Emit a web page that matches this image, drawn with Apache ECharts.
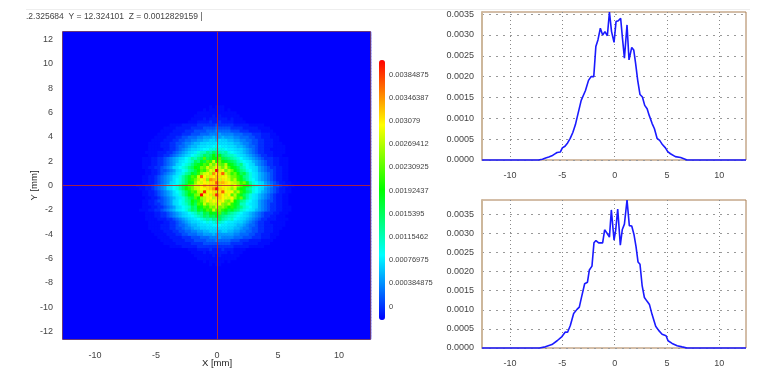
<!DOCTYPE html>
<html><head><meta charset="utf-8">
<style>html,body{margin:0;padding:0;background:#fff}#c{width:766px;height:388px}</style>
<script src="https://cdn.jsdelivr.net/npm/echarts@6/dist/echarts.min.js"></script>
</head><body><div id="c"></div>
<script>
// heat map: 0.25 mm cells, rows read top to bottom around the centre; each char picks a value from levelValues
const levelChars = "0123456789abcdefghijklmnopqrstuvwxyz";
const levelValues = [0,0.00004,0.0001,0.00018,0.0003,0.0004,0.0005,0.0006,0.0007,0.0008,0.00085,0.0009,0.00096,0.00108,0.0012,0.00132,0.00145,0.00158,0.0017,0.00182,0.00195,0.00208,0.0022,0.00232,0.00245,0.0026,0.0027,0.0028,0.00292,0.003,0.00308,0.00316,0.0033,0.0035,0.0037,0.00385];
const heatRows = [
"10111",
"101111101",
"1111111111111",
"111111212111111",
"11112122222212111",
"1112222322322221111",
"1111222223333334333332222211111",
"11112222233334444544443333222221111",
"1111222233344445556555544433322221111",
"111122223334445556667666655544433322211",
"11112223344555667778778777665554433222111",
"1111222334455667788998a9988776655443322211",
"1111222334456678899aaabaaa998876654433222111",
"11112223345567889aabbcdcbbaa98876554332221111",
"1111122334567899abccddeddcbba9987654332211111",
"111122233456789abdeegfhgfefdcba987654332221111",
"1112233456789acdefhghkhjgfeedba9876543322111",
"1112233456789acdfeghmhikkmihgfedca98765433322111",
"111223345678abcdehgjimlqknkjihgedcba876543322111",
"111223345679acdegijkmlpnqnmpkjhfgdca976543322111",
"11223345679acdeghkjnmqopspnqmkjhfecba97654332211",
"11223445679acdfgikmlorqzqrnpnkigfdca97654432211",
"1122345678abdfgjiloqrpwstxqolnkhifdba8765432211",
"1122345678abdfhjmlqxsqtsutrspnnljgfdba8765432211",
"1122345678acdfhjlnprtowvuqtrqnpljhfdca8765432211",
"1122345679acdfhkjorqsrttxuvtsqpolnjfdca9765432211",
"11122345679acdfhjmnqqsvtuuvqssrpsomkjhedba8764432211",
"1122345679acdfhklnpqsrtuwzutrqoqlkjgfdca9765432211",
"1122345678acdfhjmlpqyrstqtxsrsnpljhgdca8765432211",
"1122345678abdfhkjnozrsquyusqsmpljhfdba8765432211",
"1122345678abdfhimkoprsptusrqsolnifdba8765432211",
"11223445679acdfgkilnpsqsrqsonqkigfdca97654432211",
"11223345679acdegjhmlqnpqpsonpljieecba97654332211",
"111223345679acdehgkjmlonqnomkljhgedca976543322111",
"111223345678abcdfhgjikmlqmnlkijhgedcba876543322111",
"1112233456789acdegfihkjjmhigfedca98765433322111",
"1112233456789abcdefhgihjhgfeedcba9876543322111",
"111122233456789abcdefegfhfedecba987654332221111",
"1111122334567899abcdcdeedcbba9987654332211111",
"11112223345567889aabbcccbbaa98876554332221111",
"1111222334456678899aaaaaaa998876654433222111",
"111122233445566778899989988776655443322211",
"11112223344555667778777777665554433222111",
"111122223334445556667666655544433322211",
"1111222233344445556555544433322221111",
"11112222233334444444443333222221111",
"1111222223333333333332222211111",
"1112222322232221111",
"11112122222212111",
"111111212111111",
"1111111111111",
"101111101",
"10110"
];
const axisCells = Array.from({length: 101}, (_, i) => String(-12.5 + i * 0.25));
const heatXTicks = ["-10", "-5", "0", "5", "10"];
const heatYTicks = ["-12","-10","-8","-6","-4","-2","0","2","4","6","8","10","12"];
const colorbarLabels = ["0.00384875","0.00346387","0.003079","0.00269412","0.00230925","0.00192437","0.0015395","0.00115462","0.00076975","0.000384875","0"];
const statusText = ".2.325684  Y = 12.324101  Z = 0.0012829159 |";

const topX = [-12.68,-7.3,-6.9,-6.6,-6.3,-6,-5.75,-5.5,-5.2,-5,-4.75,-4.5,-4.25,-4,-3.75,-3.6,-3.45,-3.2,-3.06,-2.8,-2.5,-2.26,-2,-1.8,-1.6,-1.37,-1.15,-0.93,-0.7,-0.5,-0.3,-0.06,0.13,0.35,0.57,0.73,0.93,1.18,1.37,1.63,1.82,2,2.2,2.42,2.65,2.87,3.1,3.3,3.57,3.8,4.05,4.3,4.56,4.85,5.07,5.33,5.8,6.3,6.92,12.55];
const topY = [0,0,0.00002,0.00005,0.00007,0.0001,0.00014,0.00018,0.00019,0.00029,0.00033,0.00041,0.00052,0.00066,0.00085,0.00101,0.00105,0.00143,0.00146,0.00166,0.00191,0.002,0.002,0.00272,0.00288,0.00316,0.003,0.00308,0.00298,0.00355,0.00308,0.00282,0.00332,0.00334,0.0034,0.00296,0.00244,0.00324,0.0024,0.0027,0.00264,0.00232,0.00191,0.00157,0.00151,0.00131,0.00123,0.00107,0.00088,0.00075,0.00052,0.00047,0.00037,0.00029,0.0002,0.00015,0.00008,0.00006,0,0];
const botX = [-12.68,-7.2,-6.63,-6,-5.5,-5.04,-4.72,-4.5,-4.24,-3.92,-3.6,-3.38,-3.2,-2.87,-2.6,-2.42,-2.17,-1.98,-1.79,-1.53,-1.15,-0.96,-0.73,-0.5,-0.32,-0.06,0.1,0.29,0.54,0.73,0.93,1.18,1.4,1.63,1.85,2.04,2.23,2.42,2.62,2.84,3.1,3.32,3.57,3.92,4.2,4.53,4.91,5.1,5.49,5.97,6.44,6.92,12.55];
const botY = [0,0,0.00003,0.00009,0.00019,0.0003,0.00042,0.00041,0.00059,0.0009,0.00101,0.00107,0.00129,0.00168,0.00172,0.00204,0.00214,0.00275,0.00281,0.00275,0.00275,0.00309,0.003,0.0029,0.00361,0.00282,0.00309,0.00363,0.00269,0.0031,0.00324,0.00387,0.0032,0.00319,0.00296,0.00265,0.00225,0.00219,0.00164,0.00132,0.00122,0.00114,0.00088,0.00057,0.00046,0.00036,0.00032,0.00019,0.00012,0.00006,0.00003,0,0];
const profXTicks = [-10,-5,0,5,10];
const profYTicks = [0,0.0005,0.001,0.0015,0.002,0.0025,0.003,0.0035];

// expand the level rows over the full cell grid
const N = axisCells.length, C = (N - 1) / 2, H = (heatRows.length - 1) / 2;
const heatData = [];
const levels = {};
heatRows.forEach((row, r) => {
  const dy = H - r, x0 = C - Math.floor(row.length / 2);
  for (let i = 0; i < row.length; i++) levels[(x0 + i) + "," + (C + dy)] = levelValues[levelChars.indexOf(row[i])];
});
for (let y = 0; y < N; y++) for (let x = 0; x < N; x++) heatData.push([x, y, levels[x + "," + y] || 0]);

const FONT = "Liberation Sans";
const chart = echarts.init(document.getElementById("c"), null, {renderer: "canvas"});
const profAxisX = (g) => ({
  type: "value", gridIndex: g, min: -12.68, max: 12.55,
  axisLine: {show: false}, axisTick: {show: false, customValues: profXTicks},
  axisLabel: {customValues: profXTicks, fontFamily: FONT, fontSize: 9, color: "#444", margin: 11},
  splitLine: {show: true, lineStyle: {type: [1, 3], color: "#888", width: 1}}
});
const profAxisY = (g, max) => ({
  type: "value", gridIndex: g, min: 0, max: max,
  axisLine: {show: true, onZero: false, lineStyle: {color: "#cdb79b", width: 2}}, axisTick: {show: false, customValues: profYTicks},
  axisLabel: {customValues: profYTicks, fontFamily: FONT, fontSize: 9, color: "#444", margin: 8, formatter: v => v.toFixed(4)},
  splitLine: {show: true, lineStyle: {type: [2, 5], color: "#999", width: 1}}
});
const profLine = (idx, xs, ys) => ({
  type: "line", xAxisIndex: idx, yAxisIndex: idx, data: xs.map((x, i) => [x, ys[i]]),
  showSymbol: false, smooth: false, clip: false, silent: true, animation: false,
  lineStyle: {color: "#1a1aff", width: 1.6}
});
const colorbarText = colorbarLabels.map((t, i) => ({
  type: "text", left: 389, top: 70.5 + i * 23.2,
  style: {text: t, fontFamily: FONT, fontSize: 7.5, fill: "#444"}
}));

chart.setOption({
  animation: false,
  backgroundColor: "#fff",
  grid: [
    {left: 63, top: 32, width: 308, height: 307, show: true, backgroundColor: "#0000ff", borderWidth: 0},
    {left: 482, top: 12, width: 264, height: 148, show: true, borderColor: "#a87c50", borderWidth: 1},
    {left: 482, top: 200, width: 264, height: 148, show: true, borderColor: "#a87c50", borderWidth: 1}
  ],
  xAxis: [
    {type: "category", gridIndex: 0, data: axisCells, axisLine: {show: false}, axisTick: {show: false}, splitLine: {show: false},
     name: "X [mm]", nameLocation: "middle", nameGap: 19, nameMoveOverlap: false, nameTextStyle: {fontFamily: FONT, fontSize: 9.5, color: "#222", fontWeight: 500},
     axisLabel: {interval: (i, v) => heatXTicks.includes(v), fontFamily: FONT, fontSize: 9, color: "#444", margin: 12}},
    profAxisX(1), profAxisX(2)
  ],
  yAxis: [
    {type: "category", gridIndex: 0, data: axisCells, axisLine: {show: false}, axisTick: {show: false}, splitLine: {show: false},
     name: "Y [mm]", nameLocation: "middle", nameGap: 24, nameMoveOverlap: false, nameTextStyle: {fontFamily: FONT, fontSize: 9.5, color: "#222", fontWeight: 500},
     axisLabel: {interval: (i, v) => heatYTicks.includes(v), fontFamily: FONT, fontSize: 9, color: "#444", margin: 10}},
    profAxisY(1, 0.00355), profAxisY(2, 0.00387)
  ],
  visualMap: {
    type: "continuous", seriesIndex: 0, min: 0, max: 0.00385, show: true, calculable: false, hoverLink: false,
    left: 379, top: 60, itemWidth: 6, itemHeight: 260, padding: 0, text: null, realtime: false,
    inRange: {color: ["#0000ff", "#00ffff", "#00ff00", "#ffff00", "#ff0000"]}
  },
  series: [
    {type: "heatmap", xAxisIndex: 0, yAxisIndex: 0, data: heatData, progressive: 0, silent: true,
     itemStyle: {borderWidth: 0},
     markLine: {silent: true, symbol: "none", animation: false, label: {show: false},
       lineStyle: {color: "#c02828", width: 1, type: "solid", opacity: 0.85},
       data: [{xAxis: C}, {yAxis: C}]}},
    profLine(1, topX, topY),
    profLine(2, botX, botY)
  ],
  graphic: [
    {type: "rect", left: 26, top: 9, shape: {width: 724, height: 1}, style: {fill: "#eeeeee"}, silent: true},
    {type: "text", left: 26, top: 12.5, style: {text: statusText, fontFamily: FONT, fontSize: 8.5, fill: "#444"}},
    {type: "rect", z: 10, silent: true, shape: {x: 62.5, y: 31.5, width: 308, height: 308}, style: {fill: "none", stroke: "#6a3a7a", lineWidth: 1}},
    ...colorbarText
  ]
});
</script></body></html>
